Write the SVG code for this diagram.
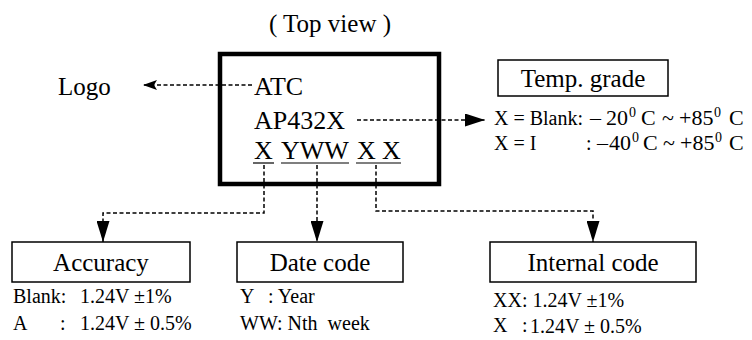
<svg xmlns="http://www.w3.org/2000/svg" width="752" height="340" viewBox="0 0 752 340">
<style>
text{font-family:"Liberation Serif","Times New Roman",serif;fill:#000}
.big{font-size:25px}
.chip{font-size:26px}
.mid{font-size:20px}
.tmp{font-size:22px}
.sm{font-size:20px}
.sup{font-size:14px}
.box{fill:#fff;stroke:#000;stroke-width:1.5}
.dash{fill:none;stroke:#000;stroke-width:1.5;stroke-dasharray:4 2.5}
.ul{stroke:#000;stroke-width:1.2}
</style>
<defs>
<marker id="ah" viewBox="0 0 14 10" refX="14" refY="5" markerWidth="14" markerHeight="10" markerUnits="userSpaceOnUse" orient="auto"><path d="M0,0 L14,5 L0,10 L3,5 z" fill="#000"/></marker>
<marker id="ahb" viewBox="0 0 20 13" refX="20" refY="6.5" markerWidth="20" markerHeight="13" markerUnits="userSpaceOnUse" orient="auto"><path d="M0,0 L20,6.5 L0,13 z" fill="#000"/></marker>
<marker id="ahd" viewBox="0 0 21 13" refX="21" refY="6.5" markerWidth="21" markerHeight="13" markerUnits="userSpaceOnUse" orient="auto"><path d="M0,0 L21,6.5 L0,13 z" fill="#000"/></marker>
</defs>
<text class="big" x="330" y="32" text-anchor="middle">( Top view )</text>

<g id="chip">
<rect x="220" y="54" width="219" height="130" fill="none" stroke="#000" stroke-width="4.5"/>
<text class="chip" x="254" y="95">ATC</text>
<text class="chip" x="254" y="129">AP432X</text>
<text class="chip" x="254" y="159">X</text>
<text class="chip" x="281" y="159">YWW</text>
<text class="chip" x="357" y="159">X</text>
<text class="chip" x="382" y="159">X</text>
<line class="ul" x1="253" y1="163" x2="274" y2="163"/>
<line class="ul" x1="281" y1="163" x2="349" y2="163"/>
<line class="ul" x1="356" y1="163" x2="401" y2="163"/>
</g>

<g id="logo">
<text class="big" x="58" y="95">Logo</text>
</g>

<g id="temp-grade">
<rect class="box" x="498" y="60" width="170" height="36"/>
<text class="big" x="583" y="87" text-anchor="middle">Temp. grade</text>
<text class="mid" x="494" y="125">X = Blank:</text>
<text class="tmp" y="125"><tspan x="590">–</tspan><tspan x="606">20</tspan><tspan class="sup" x="629" dy="-8">0</tspan><tspan x="641" dy="8">C</tspan><tspan x="662">~</tspan><tspan x="679">+85</tspan><tspan class="sup" x="714" dy="-8">0</tspan><tspan x="729" dy="8">C</tspan></text>
<text class="mid" x="494" y="150">X = I</text>
<text class="mid" x="586" y="150">:</text>
<text class="tmp" y="150"><tspan x="597">–</tspan><tspan x="609">40</tspan><tspan class="sup" x="632" dy="-8">0</tspan><tspan x="643" dy="8">C</tspan><tspan x="663">~</tspan><tspan x="680">+85</tspan><tspan class="sup" x="715" dy="-8">0</tspan><tspan x="729" dy="8">C</tspan></text>
</g>

<g id="accuracy">
<rect class="box" x="12" y="242" width="178" height="40"/>
<text class="big" x="101" y="271" text-anchor="middle">Accuracy</text>
<text class="sm" x="13" y="303">Blank:</text>
<text class="sm" x="80" y="303">1.24V ±1%</text>
<text class="sm" x="13" y="330">A</text>
<text class="sm" x="60" y="330">:</text>
<text class="sm" x="80" y="330">1.24V ± 0.5%</text>
</g>

<g id="date-code">
<rect class="box" x="237" y="242" width="166" height="40"/>
<text class="big" x="320" y="271" text-anchor="middle">Date code</text>
<text class="sm" x="240" y="303">Y</text>
<text class="sm" x="268" y="303">: Year</text>
<text class="sm" x="240" y="330" xml:space="preserve">WW: Nth  week</text>
</g>

<g id="internal-code">
<rect class="box" x="490" y="242" width="206" height="40"/>
<text class="big" x="593" y="271" text-anchor="middle">Internal code</text>
<text class="sm" x="493" y="307">XX: 1.24V ±1%</text>
<text class="sm" x="493" y="332">X</text>
<text class="sm" x="522" y="332">:</text>
<text class="sm" x="530" y="333">1.24V ± 0.5%</text>
</g>

<g id="connectors">
<path class="dash" d="M252,85 H143" marker-end="url(#ah)"/>
<path class="dash" d="M357,120 H485" marker-end="url(#ahb)"/>
<path class="dash" d="M264,165 V213 H103 V242" marker-end="url(#ahd)"/>
<path class="dash" d="M317,165 V242" marker-end="url(#ahd)"/>
<path class="dash" d="M376,165 V211 H593 V242" marker-end="url(#ahd)"/>
</g>
</svg>
